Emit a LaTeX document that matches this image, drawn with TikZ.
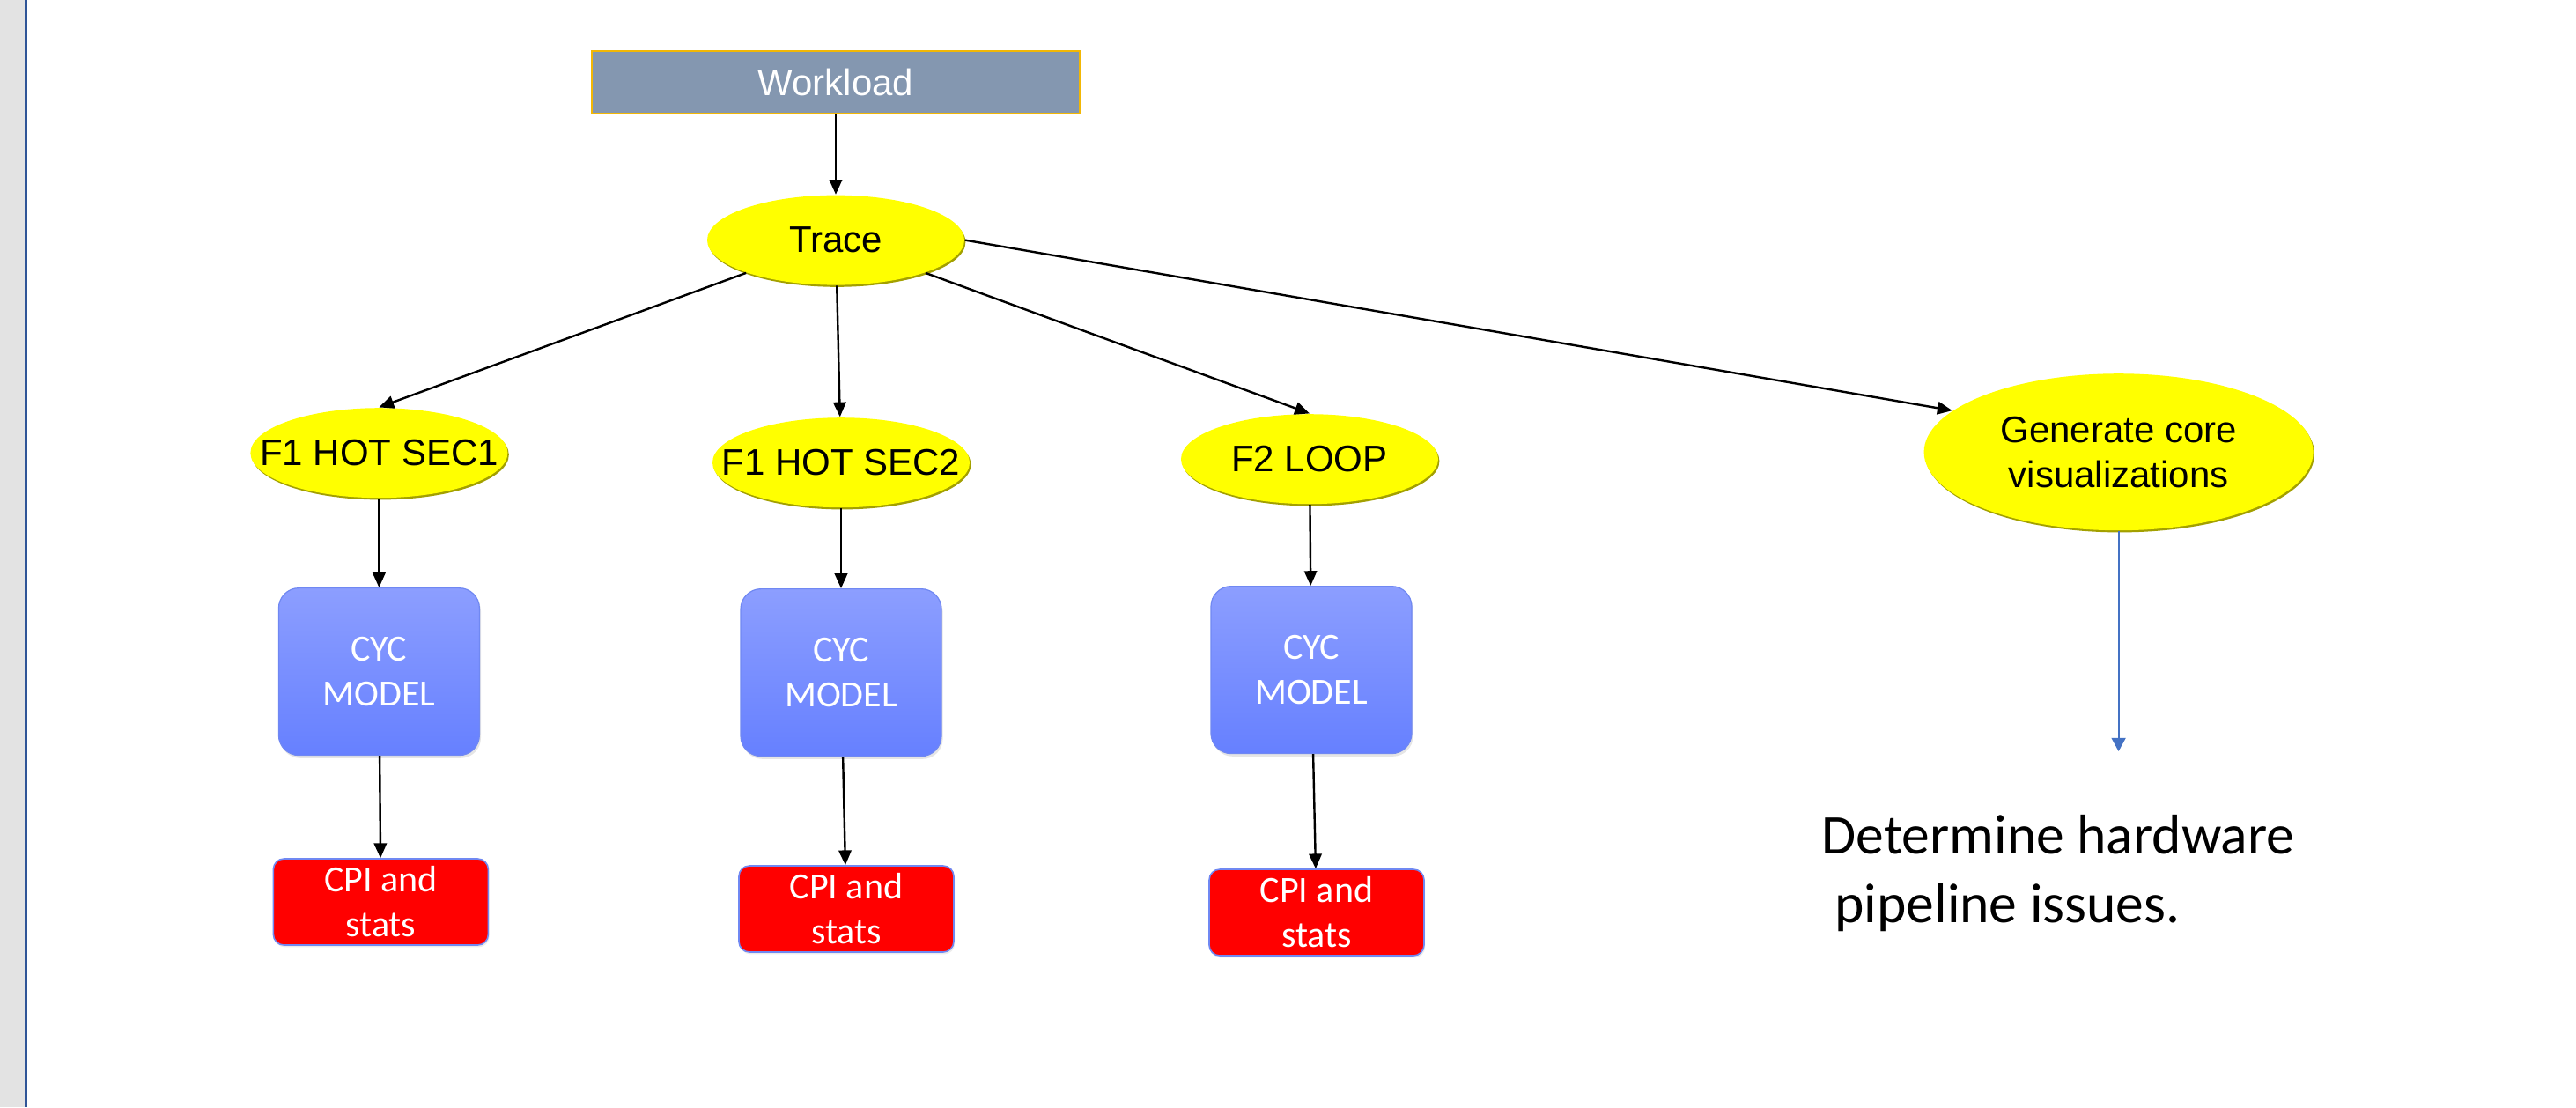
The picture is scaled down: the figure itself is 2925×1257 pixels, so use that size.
\documentclass[tikz,border=0pt]{standalone}
\usepackage{fontspec}
\usepackage{xcolor}
\usepackage{tikz}
\usetikzlibrary{arrows.meta,positioning,shapes.geometric,shadows}
\newfontfamily\arialfont{Liberation Sans}
\newfontfamily\calibrifont{Carlito}
\definecolor{slateblue}{HTML}{8497B0}
\definecolor{slateedge}{HTML}{F2B705}
\definecolor{hotyellow}{HTML}{FFFF00}
\definecolor{hotrim}{HTML}{A3A000}
\definecolor{modeltop}{HTML}{8C9EFF}
\definecolor{modelbot}{HTML}{6680FF}
\definecolor{modeledge}{HTML}{7088F2}
\definecolor{statred}{HTML}{FF0000}
\definecolor{vizblue}{HTML}{4472C4}
\definecolor{marginbar}{HTML}{2F5597}
\definecolor{margingray}{HTML}{E3E3E3}
\newcommand{\nowidth}[1]{\makebox[0pt]{#1}}

\begin{document}
\begin{tikzpicture}[
x=0.25pt,y=-0.25pt,
wl/.style={rectangle,draw=slateedge,line width=0.4pt,fill=slateblue,text=white,font=\arialfont\fontsize{10.5pt}{12.75pt}\selectfont,minimum width=138.5pt,minimum height=17.75pt,inner sep=0pt},
ell/.style={ellipse,fill=hotyellow,inner sep=0pt,minimum width=73pt,minimum height=25.5pt,font=\arialfont\fontsize{10.5pt}{12.75pt}\selectfont,drop shadow={shadow xshift=0.35pt,shadow yshift=-0.55pt,fill=hotrim,opacity=1}},
model/.style={rectangle,rounded corners=5.75pt,top color=modeltop,bottom color=modelbot,draw=modeledge,line width=0.3pt,text=white,align=center,font=\calibrifont\fontsize{10.5pt}{12.75pt}\selectfont,minimum width=57pt,minimum height=47.5pt,inner sep=0pt,drop shadow={shadow xshift=0.4pt,shadow yshift=-0.8pt,opacity=0.2}},
stat/.style={rectangle,rounded corners=3pt,fill=statred,draw=modeledge,line width=0.4pt,text=white,align=center,font=\calibrifont\fontsize{10.5pt}{12.75pt}\selectfont,minimum width=61pt,minimum height=24.5pt,inner sep=0pt,drop shadow={shadow xshift=0.3pt,shadow yshift=-0.6pt,opacity=0.15}},
arr/.style={-{Triangle[length=4.2pt,width=3.6pt]},line width=0.6pt,black},
vizarr/.style={-{Triangle[length=3.8pt,width=4pt]},line width=0.45pt,vizblue}
]
\fill[white] (0,0) rectangle (2925,1257);
\useasboundingbox (0,0) rectangle (2925,1257);
% page margin strip
\fill[margingray] (0,0) rectangle (28,1257);
\draw[marginbar,line width=0.75pt] (29.5,0) -- (29.5,1257);

\node[wl] (work) at (949,93.5) {Workload};
\node[ell,below=22.75pt of work] (trace) {Trace};
\node[ell,below=37.25pt of trace,xshift=1.5pt] (hot2) {\nowidth{F1 HOT SEC2}};
\node[ell,left=57.75pt of hot2,yshift=2.75pt] (hot1) {\nowidth{F1 HOT SEC1}};
\node[ell,right=59.6pt of hot2,yshift=1pt] (loop) {\nowidth{F2 LOOP}};
\node[ell,right=137.5pt of loop,yshift=2pt,align=center,minimum width=110.5pt,minimum height=44.5pt] (viz) {Generate core\\visualizations};

\node[model,below=25.25pt of hot1] (cyc1) {CYC\\MODEL};
\node[model,below=22.75pt of hot2] (cyc2) {CYC\\MODEL};
\node[model,below=23pt of loop,xshift=0.5pt] (cyc3) {CYC\\MODEL};
\node[stat,below=29pt of cyc1,xshift=0.5pt] (cpi1) {CPI and\\stats};
\node[stat,below=30.75pt of cyc2,xshift=1.5pt] (cpi2) {CPI and\\stats};
\node[stat,below=32.5pt of cyc3,xshift=1.5pt] (cpi3) {CPI and\\stats};

\coordinate[below=62.5pt of viz.south] (vizend);
% base sits on the last line
\node[anchor=base west,align=left,inner sep=0pt,font=\calibrifont\fontsize{15.9pt}{19.5pt}\selectfont] (issues) at (2068,1047) {Determine hardware\\\hspace*{.23em}pipeline issues.};

\draw[arr] (work) -- (trace);
\draw[arr] (trace) -- (hot1.north);
\draw[arr] (trace) -- (hot2);
\draw[arr] (trace) -- (loop.north);
\draw[arr] (trace.east) -- (viz.166);
\draw[arr] (hot1) -- (cyc1);
\draw[arr] (hot2) -- (cyc2);
\draw[arr] (loop) -- (cyc3);
\draw[arr] (cyc1) -- (cpi1);
\draw[arr] (cyc2) -- (cpi2);
\draw[arr] (cyc3) -- (cpi3);
\draw[vizarr] (viz) -- (vizend);
\end{tikzpicture}
\end{document}
